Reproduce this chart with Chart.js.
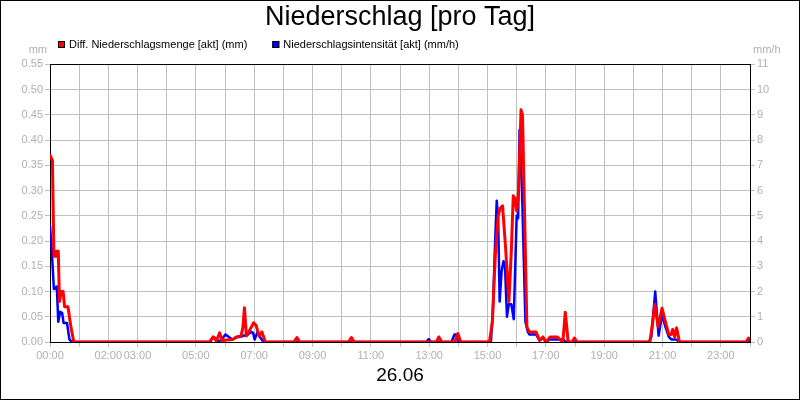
<!DOCTYPE html>
<html>
<head>
<meta charset="utf-8">
<script src="https://cdn.jsdelivr.net/npm/chart.js@4"></script>
<style>
html, body { margin: 0; padding: 0; background: #fff; }
canvas { display: block; }
</style>
</head>
<body>
<canvas id="c" width="800" height="400"></canvas>
<script>
// ---- text ----
const chartTitle = 'Niederschlag [pro Tag]';
const dateLabel = '26.06';
const seriesNames = ['Diff. Niederschlagsmenge [akt] (mm)', 'Niederschlagsintensität [akt] (mm/h)'];
const unitLeft = 'mm';
const unitRight = 'mm/h';
const xTickLabels = ['00:00', '02:00', '03:00', '05:00', '07:00', '09:00', '11:00', '13:00', '15:00', '17:00', '19:00', '21:00', '23:00'];

// ---- data: time in minutes since 00:00 ----
const mengeMinutes = [0, 5, 8, 11, 12, 17, 19.5, 23, 27, 30, 37, 43, 49,
  328, 336, 342, 349, 354, 376, 384, 393, 397, 400, 404, 410, 419, 424, 430, 436, 443,
  502, 508, 514,
  614, 620, 626,
  795, 800, 806,
  833, 839, 845,
  904, 910, 916, 922, 926, 931, 937, 944, 949, 953, 956, 960, 964, 969, 972, 977, 981, 986, 1000, 1007, 1014, 1020, 1029, 1044, 1051, 1055, 1060, 1066, 1074, 1079, 1084,
  1234, 1240, 1244, 1251, 1259, 1266, 1273, 1278, 1281, 1285, 1289, 1295,
  1432, 1437, 1440];
const mengeValues = [0.37, 0.36, 0.17, 0.17, 0.18, 0.18, 0.08, 0.10, 0.10, 0.07, 0.07, 0.03, 0,
  0, 0.01, 0.002, 0.018, 0.003, 0.005, 0.01, 0.012, 0.03, 0.068, 0.012, 0.022, 0.038, 0.033, 0.012, 0.02, 0,
  0, 0.009, 0,
  0, 0.009, 0,
  0, 0.01, 0,
  0, 0.017, 0,
  0, 0.04, 0.17, 0.25, 0.265, 0.27, 0.19, 0.08, 0.18, 0.29, 0.285, 0.26, 0.30, 0.46, 0.45, 0.22, 0.03, 0.02, 0.02, 0.003, 0.01, 0, 0.01, 0.01, 0.003, 0, 0.059, 0, 0, 0.008, 0,
  0, 0.04, 0.075, 0.03, 0.067, 0.04, 0.015, 0.015, 0.025, 0.01, 0.028, 0,
  0, 0.008, 0.006];

const intensMinutes = [0, 4, 8, 14, 17, 21, 25, 28, 35, 40, 45,
  330, 335, 340, 347, 353, 361, 368, 375, 383, 390, 398, 407, 414, 418, 421, 427, 432, 439,
  774, 779, 784,
  826, 832, 836, 840,
  907, 911, 915, 919, 922, 925, 929, 933, 936, 940, 944, 949, 954, 960, 963, 966, 971, 978, 983, 986, 1000, 1007, 1014, 1020, 1028, 1055, 1062,
  1232, 1237, 1245, 1252, 1259, 1266, 1273, 1278, 1288, 1295,
  1435, 1440];
const intensValues = [4.6, 3.5, 2.1, 2.2, 0.8, 1.2, 1.15, 0.75, 0.75, 0.1, 0,
  0, 0.2, 0.15, 0.02, 0.1, 0.3, 0.2, 0.1, 0.2, 0.2, 0.25, 0.3, 0.4, 0.35, 0.1, 0.4, 0.2, 0,
  0, 0.12, 0,
  0, 0.3, 0.3, 0,
  0, 1.2, 3.6, 5.6, 4.8, 1.6, 2.8, 3.2, 3.0, 1.0, 1.5, 1.5, 0.9, 5.0, 4.9, 8.4, 6.0, 0.8, 0.4, 0.3, 0.3, 0.06, 0.16, 0, 0.1, 0.1, 0,
  0, 0.2, 2.0, 0.25, 1.1, 0.6, 0.2, 0.1, 0.1, 0,
  0, 0.1];

// ---- styling ----
const FONT = '"Liberation Sans", Arial, sans-serif';
const tickColor = '#b0b0b0';
const gridColor = '#c0c0c0';
Chart.defaults.font.family = FONT;

const toPoints = (xs, ys) => xs.map((x, i) => ({ x: x, y: ys[i] }));

const framePlugin = {
  id: 'frame',
  beforeDraw(chart) {
    const ctx = chart.ctx;
    ctx.save();
    ctx.fillStyle = '#fff';
    ctx.fillRect(0, 0, chart.width, chart.height);
    ctx.restore();
  },
  beforeDatasetsDraw(chart) {
    const ctx = chart.ctx, a = chart.chartArea;
    ctx.save();
    ctx.strokeStyle = '#000';
    ctx.lineWidth = 1;
    ctx.strokeRect(Math.round(a.left) + 0.5, Math.round(a.top) + 0.5,
      Math.round(a.right - a.left), Math.round(a.bottom - a.top));
    ctx.restore();
  },
  afterDraw(chart) {
    const ctx = chart.ctx, a = chart.chartArea;
    ctx.save();
    ctx.strokeStyle = '#000';
    ctx.lineWidth = 1;
    ctx.strokeRect(0.5, 0.5, chart.width - 1, chart.height - 1);
    // legend
    ctx.font = '11px ' + FONT;
    ctx.textBaseline = 'alphabetic';
    ctx.textAlign = 'left';
    let x = 58;
    chart.data.datasets.forEach(ds => {
      ctx.fillStyle = ds.borderColor;
      ctx.fillRect(x, 41, 7, 7);
      ctx.strokeStyle = '#000';
      ctx.strokeRect(x + 0.5, 41.5, 6, 6);
      ctx.fillStyle = '#000';
      ctx.fillText(ds.label, x + 11, 48);
      x += 11 + ctx.measureText(ds.label).width + 25;
    });
    // units
    ctx.fillStyle = tickColor;
    ctx.textAlign = 'right';
    ctx.fillText(unitLeft, a.left - 3, 53);
    ctx.textAlign = 'left';
    ctx.fillText(unitRight, a.right + 3, 53);
    ctx.restore();
  }
};

new Chart(document.getElementById('c'), {
  type: 'line',
  data: {
    datasets: [
      {
        label: seriesNames[0],
        data: toPoints(mengeMinutes, mengeValues),
        borderColor: '#ff0000',
        backgroundColor: '#ff0000',
        borderWidth: 3,
        pointRadius: 0,
        tension: 0,
        borderJoinStyle: 'round',
        borderCapStyle: 'round',
        yAxisID: 'y'
      },
      {
        label: seriesNames[1],
        data: toPoints(intensMinutes, intensValues),
        borderColor: '#0000ff',
        backgroundColor: '#0000ff',
        borderWidth: 2.5,
        pointRadius: 0,
        tension: 0,
        borderJoinStyle: 'round',
        borderCapStyle: 'round',
        yAxisID: 'y1'
      }
    ]
  },
  options: {
    responsive: false,
    animation: false,
    layout: { padding: 0 },
    plugins: {
      legend: { display: false },
      tooltip: { enabled: false },
      title: {
        display: true,
        text: chartTitle,
        color: '#000',
        font: { size: 27, weight: 'normal', family: FONT },
        padding: { top: 1, bottom: 31 }
      }
    },
    scales: {
      x: {
        type: 'linear',
        position: 'bottom',
        min: 0,
        max: 1440,
        ticks: {
          stepSize: 60,
          autoSkip: false,
          maxRotation: 0,
          color: tickColor,
          font: { size: 11 },
          padding: 2,
          callback: (v) => {
            if (v % 60 !== 0) return '';
            const s = String(v / 60).padStart(2, '0') + ':00';
            return xTickLabels.includes(s) ? s : '';
          }
        },
        grid: { color: gridColor, tickLength: 5 },
        border: { display: false },
        title: {
          display: true,
          text: dateLabel,
          color: '#000',
          font: { size: 19 },
          padding: { top: 0, bottom: 13 }
        },
        afterFit: (s) => { s.height = 58; }
      },
      y: {
        position: 'left',
        min: 0,
        max: 0.55,
        ticks: {
          stepSize: 0.05,
          color: tickColor,
          font: { size: 11 },
          padding: 2,
          callback: (v) => Number(v).toFixed(2)
        },
        grid: { color: gridColor, tickLength: 5 },
        border: { display: false },
        afterFit: (s) => { s.width = 50; }
      },
      y1: {
        position: 'right',
        min: 0,
        max: 11,
        ticks: {
          stepSize: 1,
          color: tickColor,
          font: { size: 11 },
          padding: 2
        },
        grid: { drawOnChartArea: false, color: gridColor, tickLength: 5 },
        border: { display: false },
        afterFit: (s) => { s.width = 50; }
      }
    }
  },
  plugins: [framePlugin]
});
</script>
</body>
</html>
